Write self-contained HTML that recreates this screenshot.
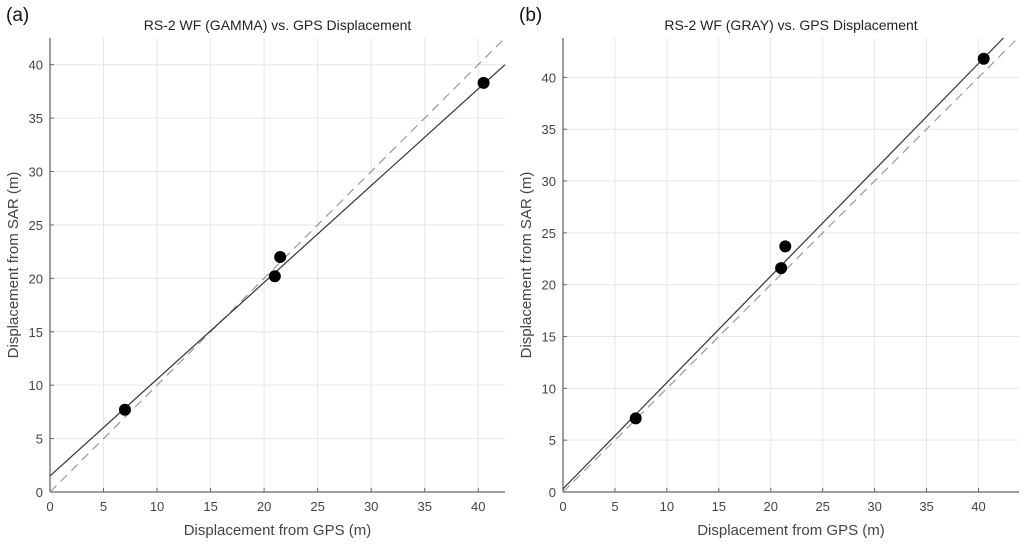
<!DOCTYPE html>
<html><head><meta charset="utf-8"><style>
body{margin:0;background:#fff;width:1024px;height:547px;overflow:hidden}
svg text{font-family:"Liberation Sans",sans-serif;fill:#444}
</style></head><body>
<svg id="s" width="1024" height="547"></svg>
<script>
const ticks=[0,5,10,15,20,25,30,35,40];
const gpsA=[7,21,21.5,40.5];
const sarA=[7.7,20.2,22,38.3];
const gpsB=[7,21,21.4,40.5];
const sarB=[7.1,21.6,23.7,41.8];
const fitA=[1.5,0.906];
const fitB=[0.3,1.026];
const titles=["RS-2 WF (GAMMA) vs. GPS Displacement","RS-2 WF (GRAY) vs. GPS Displacement"];
const labels=["(a)","(b)"];
const NS="http://www.w3.org/2000/svg";
const svg=document.getElementById('s');
function mk(t,a,p){const e=document.createElementNS(NS,t);for(const k in a)e.setAttribute(k,a[k]);(p||svg).appendChild(e);return e;}
const panels=[
 {x0:50,x1:505,y0:492,y1:38,max:42.5,ymax:42.5,gps:gpsA,sar:sarA,fit:fitA,name:'panel-a'},
 {x0:563,x1:1019,y0:492,y1:38,max:43.9,ymax:43.8,gps:gpsB,sar:sarB,fit:fitB,name:'panel-b'}];
panels.forEach((P,i)=>{
 const g=mk('g',{});
 
 
 const sx=v=>P.x0+v/P.max*(P.x1-P.x0);
 const sy=v=>P.y0-v/P.ymax*(P.y0-P.y1);
 ticks.forEach(t=>{
  mk('line',{x1:sx(t),x2:sx(t),y1:P.y0,y2:P.y1,stroke:'#e6e6e6'},g);
  mk('line',{x1:P.x0,x2:P.x1,y1:sy(t),y2:sy(t),stroke:'#e6e6e6'},g);
  mk('line',{x1:sx(t),x2:sx(t),y1:P.y0,y2:P.y0-4,stroke:'#666'},g);
  mk('line',{x1:P.x0,x2:P.x0+4,y1:sy(t),y2:sy(t),stroke:'#666'},g);
  const xt=mk('text',{x:sx(t),y:P.y0+19,'text-anchor':'middle','font-size':13},g);xt.textContent=t;
  
  const yt=mk('text',{x:P.x0-7,y:sy(t)+5,'text-anchor':'end','font-size':13},g);yt.textContent=t;
  
 });
 mk('line',{x1:P.x0,x2:P.x1,y1:P.y0,y2:P.y0,stroke:'#666','stroke-width':1.3},g);
 mk('line',{x1:P.x0,x2:P.x0,y1:P.y0,y2:P.y1,stroke:'#666','stroke-width':1.3},g);
 const m=Math.min(P.max,P.ymax);
 const d=mk('line',{x1:sx(0),y1:sy(0),x2:sx(m),y2:sy(m),stroke:'#999','stroke-width':1.2,'stroke-dasharray':'9,6'},g);
 
 let xe=P.max,ye=P.fit[0]+P.fit[1]*xe;
 if(ye>P.ymax){ye=P.ymax;xe=(ye-P.fit[0])/P.fit[1];}
 const f=mk('line',{x1:sx(0),y1:sy(P.fit[0]),x2:sx(xe),y2:sy(ye),stroke:'#333','stroke-width':1.2},g);
 
 P.gps.forEach((v,j)=>{
  const c=mk('circle',{cx:sx(v),cy:sy(P.sar[j]),r:6,fill:'#000'},g);
  
  
 });
 const tt=mk('text',{x:(P.x0+P.x1)/2,y:30,'text-anchor':'middle','font-size':14,style:'fill:#222'},g);tt.textContent=titles[i];
 
 const lb=mk('text',{x:P.x0-44,y:21,'font-size':19,style:'fill:#111'},g);lb.textContent=labels[i];
 
 const xl=mk('text',{x:(P.x0+P.x1)/2,y:535,'text-anchor':'middle','font-size':15},g);xl.textContent='Displacement from GPS (m)';
 
 const cy=(P.y0+P.y1)/2;
 const yl=mk('text',{x:P.x0-32,y:cy,'text-anchor':'middle','font-size':15,transform:`rotate(-90 ${P.x0-32} ${cy})`},g);yl.textContent='Displacement from SAR (m)';
 
});
</script>
</body></html>
